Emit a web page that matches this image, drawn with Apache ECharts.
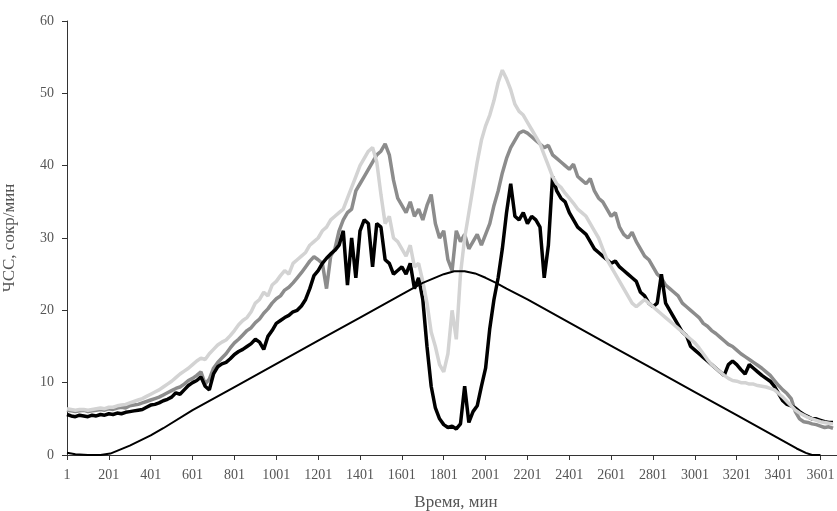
<!DOCTYPE html>
<html>
<head>
<meta charset="utf-8">
<script src="https://cdn.jsdelivr.net/npm/echarts@6/dist/echarts.min.js"></script>
<style>
html,body{margin:0;padding:0;background:#fff;}
#chart{width:837px;height:511px;}
</style>
</head>
<body>
<div id="chart"></div>
<script>
// sampling of the time axis (minutes), one sample every 20 min
const minutes = Array.from({length: 184}, (_, i) => 1 + 20 * i);

const blackSeries = [
5.6,5.4,5.3,5.5,5.4,5.3,5.5,5.4,5.6,5.5,
5.7,5.6,5.8,5.7,5.9,6.0,6.1,6.2,6.3,6.6,
6.9,7.0,7.2,7.5,7.7,8.0,8.6,8.4,9.0,9.6,
10.0,10.3,10.8,9.5,9.0,11.2,12.2,12.6,12.8,13.3,
13.9,14.3,14.6,15.0,15.4,16.0,15.6,14.6,16.4,17.2,
18.2,18.6,19.0,19.3,19.8,20.0,20.6,21.5,23.0,24.8,
25.5,26.5,27.2,27.8,28.3,29.0,31.0,23.5,30.0,24.5,
31.0,32.5,32.0,26.0,32.0,31.5,27.0,26.5,25.0,25.5,
26.0,25.0,26.5,23.0,24.5,21.5,15.0,9.5,6.5,5.0,
4.2,3.8,4.0,3.6,4.3,9.5,4.5,6.0,6.8,9.5,
12.0,17.5,21.5,24.5,28.5,33.5,37.5,33.0,32.5,33.5,
32.0,33.0,32.5,31.5,24.5,29.0,38.5,36.5,35.5,35.0,
33.5,32.5,31.5,31.0,30.5,29.5,28.5,28.0,27.5,27.0,
26.5,26.8,26.0,25.5,25.0,24.5,24.0,22.5,22.0,21.0,
20.5,21.0,25.0,21.0,20.0,19.0,18.0,17.0,16.5,15.0,
14.5,14.0,13.5,13.0,12.5,12.0,11.5,11.0,12.5,13.0,
12.5,11.8,11.2,12.5,12.0,11.5,11.0,10.6,10.2,9.5,
8.5,7.5,7.0,6.8,6.5,6.0,5.6,5.3,5.0,5.0,
4.8,4.6,4.5,4.5
];

const darkGraySeries = [
6.2,6.1,6.0,6.1,6.2,6.0,6.1,6.2,6.3,6.2,
6.4,6.3,6.5,6.6,6.5,6.8,6.9,7.0,7.2,7.4,
7.6,7.8,8.0,8.3,8.6,8.9,9.2,9.4,9.8,10.3,
10.6,11.0,11.5,9.8,10.5,12.0,12.8,13.4,14.0,14.8,
15.5,16.0,16.6,17.2,17.6,18.3,18.8,19.6,20.2,21.0,
21.6,22.0,22.8,23.2,23.8,24.5,25.2,26.0,26.8,27.4,
27.0,26.5,23.0,27.5,28.5,31.0,32.5,33.5,34.0,36.5,
37.5,38.5,39.5,40.5,41.5,42.0,43.0,41.5,38.0,35.5,
34.5,33.5,35.0,33.0,34.0,32.5,34.5,36.0,32.0,30.0,
31.0,27.0,25.5,31.0,29.5,30.5,28.5,29.5,30.5,29.0,
30.5,32.0,34.5,36.5,39.0,41.0,42.5,43.5,44.5,44.8,
44.5,44.0,43.5,43.0,42.5,42.8,41.5,41.0,40.5,40.0,
39.5,40.2,38.5,38.0,37.5,38.2,36.5,35.5,35.0,34.0,
33.0,33.5,31.5,30.5,30.0,30.8,29.5,28.5,27.5,27.0,
26.0,25.0,24.5,23.5,23.0,22.5,22.0,21.0,20.5,20.0,
19.5,19.0,18.2,17.8,17.2,16.8,16.3,15.8,15.3,15.0,
14.5,14.0,13.6,13.2,12.8,12.4,12.0,11.5,11.0,10.3,
9.6,9.0,8.5,7.8,6.0,5.0,4.6,4.5,4.3,4.2,
4.0,3.8,3.9,3.7
];

const lightGraySeries = [
6.4,6.3,6.2,6.3,6.3,6.2,6.3,6.4,6.5,6.4,
6.6,6.6,6.8,6.9,7.0,7.2,7.4,7.6,7.8,8.1,
8.4,8.7,9.0,9.4,9.8,10.2,10.7,11.2,11.6,12.0,
12.5,13.0,13.4,13.2,14.0,14.6,15.2,15.6,15.9,16.5,
17.2,18.0,18.6,19.0,19.8,21.0,21.5,22.5,22.0,23.5,
24.0,24.8,25.5,25.0,26.5,27.0,27.5,28.0,29.0,29.5,
30.0,31.0,31.5,32.5,33.0,33.5,34.0,35.5,37.0,38.5,
40.0,41.0,42.0,42.5,40.5,36.0,32.0,33.0,30.0,29.5,
28.5,27.5,29.0,26.0,26.5,24.0,21.0,17.0,15.0,12.5,
11.5,14.0,20.0,16.0,25.0,30.0,33.5,37.0,40.5,43.5,
45.5,47.0,49.0,51.5,53.2,52.0,50.5,48.5,47.5,47.0,
46.0,45.0,44.0,43.0,41.5,40.0,38.5,37.5,37.0,36.2,
35.5,34.8,34.0,33.5,33.0,32.0,31.0,30.0,28.5,27.0,
26.0,25.0,24.0,23.0,22.0,21.0,20.5,21.0,21.5,21.0,
20.5,20.0,19.5,19.0,18.5,18.0,17.5,17.0,16.5,16.0,
15.5,14.8,14.0,13.2,12.5,12.0,11.5,11.0,10.6,10.3,
10.2,10.0,10.0,9.8,9.8,9.6,9.5,9.4,9.2,9.0,
8.5,8.0,7.4,6.8,6.2,5.8,5.5,5.2,5.0,4.8,
4.6,4.5,4.4,4.3
];

const triMinutes = [1,41,101,161,208,301,401,461,601,801,1001,1201,1401,1601,1701,1801,1851,1901,1951,2001,2051,2101,2201,2401,2601,2801,3001,3201,3401,3487,3531,3561,3601];
const triValues  = [0.3,0.1,0,0,0.2,1.3,2.7,3.7,6.2,9.4,12.6,15.8,19.0,22.2,23.8,25.0,25.4,25.4,25.1,24.5,23.8,23.0,21.5,18.3,15.1,11.9,8.7,5.5,2.3,0.9,0.3,0,0];

const xTickStart = 1, xTickStep = 200, xMax = 3680;
const yMin = 0, yMax = 60, yStep = 10;
const xTitle = 'Время, мин';
const yTitle = 'ЧСС, сокр/мин';

function pairs(xs, ys){ return xs.map((x, i) => [x, ys[i]]); }

const font = "'Liberation Serif', 'Times New Roman', serif";
const chart = echarts.init(document.getElementById('chart'), null, {renderer: 'canvas'});
chart.setOption({
  animation: false,
  backgroundColor: '#fff',
  grid: {left: 67, right: 0, top: 21, bottom: 56, containLabel: false, outerBoundsMode: 'none'},
  xAxis: {
    type: 'value', min: xTickStart, max: xMax, interval: xTickStep,
    name: xTitle, nameLocation: 'middle', nameGap: 39,
    nameTextStyle: {fontFamily: font, fontSize: 17, color: '#555', padding: [0, 0, 0, 8]},
    axisLine: {show: true, onZero: false, lineStyle: {color: '#333', width: 1}},
    axisTick: {show: true, length: 5, inside: false, lineStyle: {color: '#333'}},
    axisLabel: {fontFamily: font, fontSize: 14, color: '#555', margin: 13, showMaxLabel: false, hideOverlap: false,
      formatter: v => ((v - xTickStart) % xTickStep === 0 ? String(v) : '')},
    splitLine: {show: false}
  },
  yAxis: {
    type: 'value', min: yMin, max: yMax, interval: yStep,
    name: yTitle, nameLocation: 'middle', nameGap: 49, nameRotate: 90,
    nameTextStyle: {fontFamily: font, fontSize: 17, color: '#555'},
    axisLine: {show: true, lineStyle: {color: '#333', width: 1}},
    axisTick: {show: true, length: 5, lineStyle: {color: '#333'}},
    axisLabel: {fontFamily: font, fontSize: 14, color: '#555', margin: 13},
    splitLine: {show: false}
  },
  series: [
    {type: 'line', data: pairs(minutes, darkGraySeries), showSymbol: false, lineStyle: {color: '#8c8c8c', width: 3.5}, z: 2},
    {type: 'line', data: pairs(minutes, blackSeries), showSymbol: false, lineStyle: {color: '#000', width: 3.5}, z: 3},
    {type: 'line', data: pairs(minutes, lightGraySeries), showSymbol: false, lineStyle: {color: '#d3d3d3', width: 3.5}, z: 4},
    {type: 'line', data: pairs(triMinutes, triValues), showSymbol: false, lineStyle: {color: '#000', width: 2}, z: 5}
  ]
});
</script>
</body>
</html>
